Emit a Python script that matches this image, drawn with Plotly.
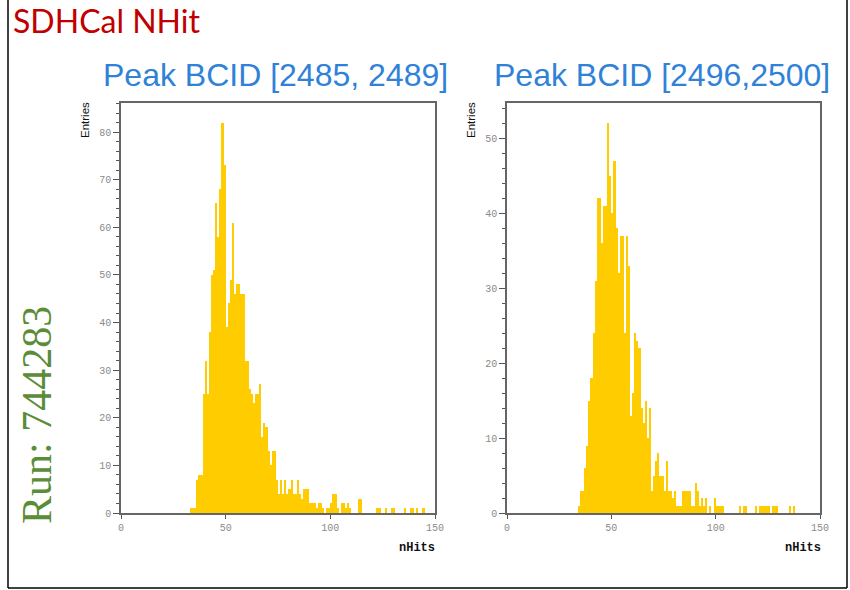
import plotly.graph_objects as go

# ---------------- data (histogram counts per 1-unit nHits bin) ----------------
left_first_bin = 33
left_counts = [
    1, 1, 1, 7, 8, 8, 25, 32, 25, 38,          # 33-42
    50, 51, 65, 58, 68, 82, 73, 39, 44, 49,    # 43-52
    61, 46, 48, 48, 46, 46, 32, 32, 26, 25,    # 53-62
    23, 25, 25, 27, 16, 19, 18, 13, 10, 13,    # 63-72
    13, 7, 4, 7, 4, 7, 4, 5, 7, 4,             # 73-82
    4, 7, 4, 3, 5, 5, 5, 2, 2, 2,              # 83-92
    1, 2, 2, 1, 0, 1, 1, 2, 4, 4,              # 93-102
    1, 0, 2, 2, 1, 2, 1, 0, 0, 0,              # 103-112
    3, 3, 0, 0, 0, 0, 0, 0, 0, 1,              # 113-122
    1, 0, 0, 1, 0, 0, 1, 1, 0, 0,              # 123-132
    0, 0, 1, 0, 0, 1, 1, 0, 1, 0,              # 133-142
    0, 1,                                      # 143-144
]

right_first_bin = 34
right_counts = [
    1, 3, 3, 6, 9, 15, 18, 24, 31, 42,         # 34-43
    42, 36, 41, 41, 52, 45, 40, 47, 38, 32,    # 44-53
    37, 37, 24, 37, 33, 13, 16, 24, 23, 22,    # 54-63
    14, 12, 15, 10, 14, 3, 5, 7, 8, 5,         # 64-73
    5, 3, 7, 3, 3, 2, 3, 1, 1, 1,              # 74-83
    3, 3, 3, 3, 1, 1, 4, 3, 1, 2,              # 84-93
    1, 2, 0, 1, 0, 2, 1, 1, 1, 1,              # 94-103
    0, 0, 0, 0, 0, 0, 0, 1, 0, 1,              # 104-113
    1, 0, 0, 0, 0, 1, 0, 1, 1, 1,              # 114-123
    1, 1, 0, 1, 1, 1, 0, 0, 0, 0,              # 124-133
    0, 1, 0, 1,                                # 134-137
]

page_title = "SDHCal NHit"
panel_titles = ["Peak BCID [2485, 2489]", "Peak BCID [2496,2500]"]
run_label = "Run: 744283"
x_title = "nHits"
y_title = "Entries"
x_tickvals = [0, 50, 100, 150]

W, H = 850, 590
BAR = "#FFCC00"


def px(x):
    return x / W


def py(y):
    return 1 - y / H


left_bins = [left_first_bin + i for i in range(len(left_counts))]
right_bins = [right_first_bin + i for i in range(len(right_counts))]

fig = go.Figure()
fig.add_trace(go.Bar(x=[b + 0.5 for b in left_bins], y=left_counts, width=1.0,
                     marker=dict(color=BAR, line=dict(width=0)),
                     xaxis="x", yaxis="y", showlegend=False))
fig.add_trace(go.Bar(x=[b + 0.5 for b in right_bins], y=right_counts, width=1.0,
                     marker=dict(color=BAR, line=dict(width=0)),
                     xaxis="x2", yaxis="y2", showlegend=False))

tickfont = dict(family="Liberation Mono, Courier New, monospace", size=10, color="#8a8a8a")
axline = dict(showline=True, linecolor="#666666", linewidth=1.5, mirror=True,
              showgrid=False, zeroline=False, ticks="outside", tickcolor="#555555",
              tickfont=tickfont, automargin=False)

ydom = [py(513), py(103)]
fig.update_layout(
    width=W, height=H,
    margin=dict(l=0, r=0, t=0, b=0, pad=0),
    paper_bgcolor="white", plot_bgcolor="white",
    bargap=0,
    xaxis=dict(domain=[px(121), px(435)], range=[0, 150], tickvals=x_tickvals,
               ticklen=4, anchor="y", **axline),
    yaxis=dict(domain=ydom, range=[0, 86.1], dtick=10, ticklen=6, anchor="x",
               minor=dict(dtick=2, ticklen=3, ticks="outside", tickcolor="#555555"),
               **axline),
    xaxis2=dict(domain=[px(507), px(820)], range=[0, 150], tickvals=x_tickvals,
                ticklen=4, anchor="y2", **axline),
    yaxis2=dict(domain=ydom, range=[0, 54.7], dtick=10, ticklen=6, anchor="x2",
                minor=dict(dtick=2, ticklen=3, ticks="outside", tickcolor="#555555"),
                **axline),
)

ann = []
ann.append(dict(text=page_title, x=px(11), y=py(21), xanchor="left", yanchor="middle",
                font=dict(family="Lato, Liberation Sans, sans-serif", size=32, color="#C00000")))
ann.append(dict(text=panel_titles[0], x=px(275), y=py(75), xanchor="center", yanchor="middle",
                font=dict(family="Liberation Sans, Arial, sans-serif", size=32, color="#2F82D8")))
ann.append(dict(text=panel_titles[1], x=px(662), y=py(75), xanchor="center", yanchor="middle",
                font=dict(family="Liberation Sans, Arial, sans-serif", size=32, color="#2F82D8")))
ann.append(dict(text=run_label, x=px(37), y=py(415), xanchor="center", yanchor="middle",
                textangle=-90,
                font=dict(family="Liberation Serif, Times New Roman, serif", size=42, color="#5B8C37")))
for xc in (85, 471):
    ann.append(dict(text=y_title, x=px(xc), y=py(120), xanchor="center", yanchor="middle",
                    textangle=-90,
                    font=dict(family="Liberation Sans, Arial, sans-serif", size=11.5, color="#111111")))
for xr in (437, 823):
    ann.append(dict(text="<b>" + x_title + "</b>", x=px(xr), y=py(548), xanchor="right",
                    yanchor="middle",
                    font=dict(family="Liberation Mono, Courier New, monospace", size=12, color="#111111")))
for a in ann:
    a.update(xref="paper", yref="paper", showarrow=False)
fig.update_layout(annotations=ann)

# outer frame of the slide (left, right, bottom)
frame = dict(type="line", xref="paper", yref="paper", line=dict(color="#000000", width=1.5))
fig.update_layout(shapes=[
    dict(frame, x0=px(8), x1=px(8), y0=py(588), y1=1),
    dict(frame, x0=px(847), x1=px(847), y0=py(588), y1=1),
    dict(frame, x0=px(8), x1=px(847), y0=py(588), y1=py(588)),
])

fig.write_html("out.html", config={"displayModeBar": False})
